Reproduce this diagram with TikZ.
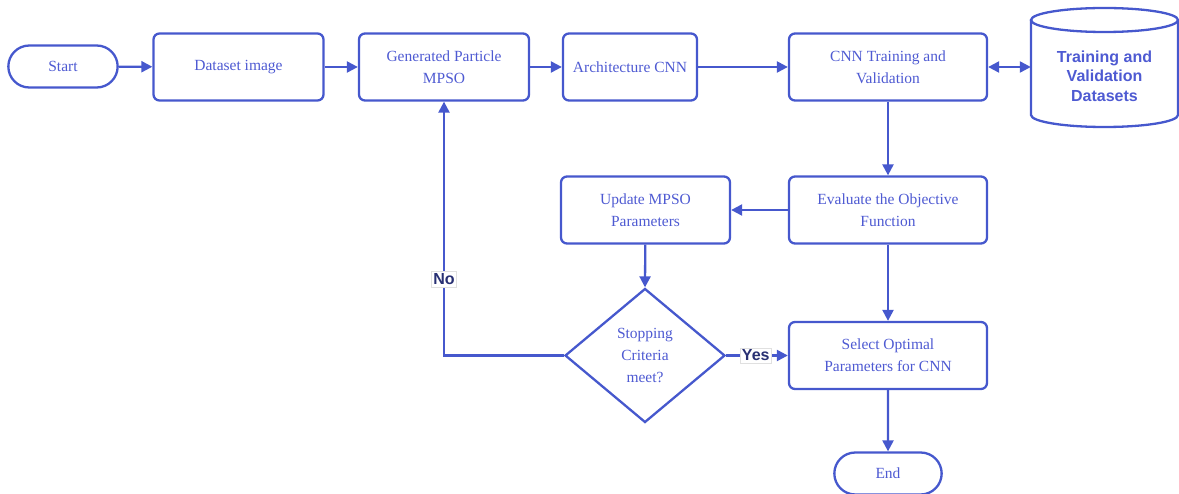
\documentclass[tikz,border=0pt]{standalone}
\usepackage{fontspec}
\setmainfont{Liberation Serif}
\setsansfont{Liberation Sans}
\usetikzlibrary{shapes.geometric,shapes.misc,arrows.meta,calc}
\definecolor{lb}{RGB}{70,88,205}
\definecolor{tb}{RGB}{78,90,210}
\definecolor{nv}{RGB}{40,48,115}
\tikzset{
  box/.style={draw=lb,line width=2.3pt,rounded corners=6pt,minimum width=170pt,minimum height=67pt,align=center,text=tb,font=\fontsize{15.5}{22}\selectfont},
  term/.style={draw=lb,line width=2.3pt,rounded rectangle,minimum width=112pt,minimum height=42pt,text=tb,font=\fontsize{15.5}{22}\selectfont},
  dia/.style={draw=lb,line width=2.3pt,diamond,aspect=1.2,minimum width=160pt,minimum height=134pt,inner sep=0pt,align=center,text=tb,font=\fontsize{15.5}{22}\selectfont},
  arr/.style={draw=lb,line width=2.3pt,-{Triangle[width=11pt,length=11pt]}},
  lab/.style={fill=white,draw=black!12,line width=0.6pt,inner sep=2pt,text=nv,font=\sffamily\bfseries\fontsize{16}{19}\selectfont}
}
\begin{document}
\begin{tikzpicture}[x=1pt,y=-1pt]
\useasboundingbox (0,0) rectangle (1179,494);
\node[term,minimum width=116pt] (start) at (63,66.5) {Start};
\node[box] (ds) at (238.5,67) {Dataset image};
\node[box] (gp) at (444,67) {Generated Particle\\MPSO};
\node[box,minimum width=134pt] (arch) at (630,67) {Architecture CNN};
\node[box,minimum width=198pt] (cnn) at (888,67) {CNN Training and\\Validation};
\node[box,minimum width=198pt] (eval) at (888,210) {Evaluate the Objective\\Function};
\node[box,minimum width=169pt] (upd) at (645.5,210) {Update MPSO\\Parameters};
\node[dia] (stop) at (645,355.5) {Stopping\\Criteria\\meet?};
\node[box,minimum width=198pt] (sel) at (888,355.5) {Select Optimal\\Parameters for CNN};
\node[term,minimum width=114pt] (end) at (888,473.5) {End};
% cylinder
\node[minimum width=147pt,minimum height=100pt,align=center,text=tb,font=\sffamily\bfseries\fontsize{16}{19.5}\selectfont] (db) at (1104.5,76) {Training and\\Validation\\Datasets};
\draw[lb,line width=2.3pt] (1031,20) -- (1031,115) arc[start angle=180,end angle=360,x radius=73.5pt,y radius=12pt] -- (1178,20);
\draw[lb,line width=2.3pt] (1104.5,20) ellipse[x radius=73.5pt,y radius=12pt];
% connectors
\draw[arr] (start) -- (ds);
\draw[arr] (ds) -- (gp);
\draw[arr] (gp) -- (arch);
\draw[arr] (arch) -- (cnn);
\draw[lb,line width=2.3pt,{Triangle[width=11pt,length=11pt]}-{Triangle[width=11pt,length=11pt]}] (cnn.east) -- (cnn.east -| db.west);
\draw[arr] (cnn) -- (eval);
\draw[arr] (eval) -- (upd);
\draw[arr] (upd) -- (stop.north);
\draw[arr] (eval) -- (sel);
\draw[arr] (sel) -- (end);
\draw[arr] (stop.east) -- node[lab,pos=0.48] {Yes} (sel.west);
\draw[arr] (stop.west) -| node[lab,pos=0.65] {No} (gp.south);
\end{tikzpicture}
\end{document}
